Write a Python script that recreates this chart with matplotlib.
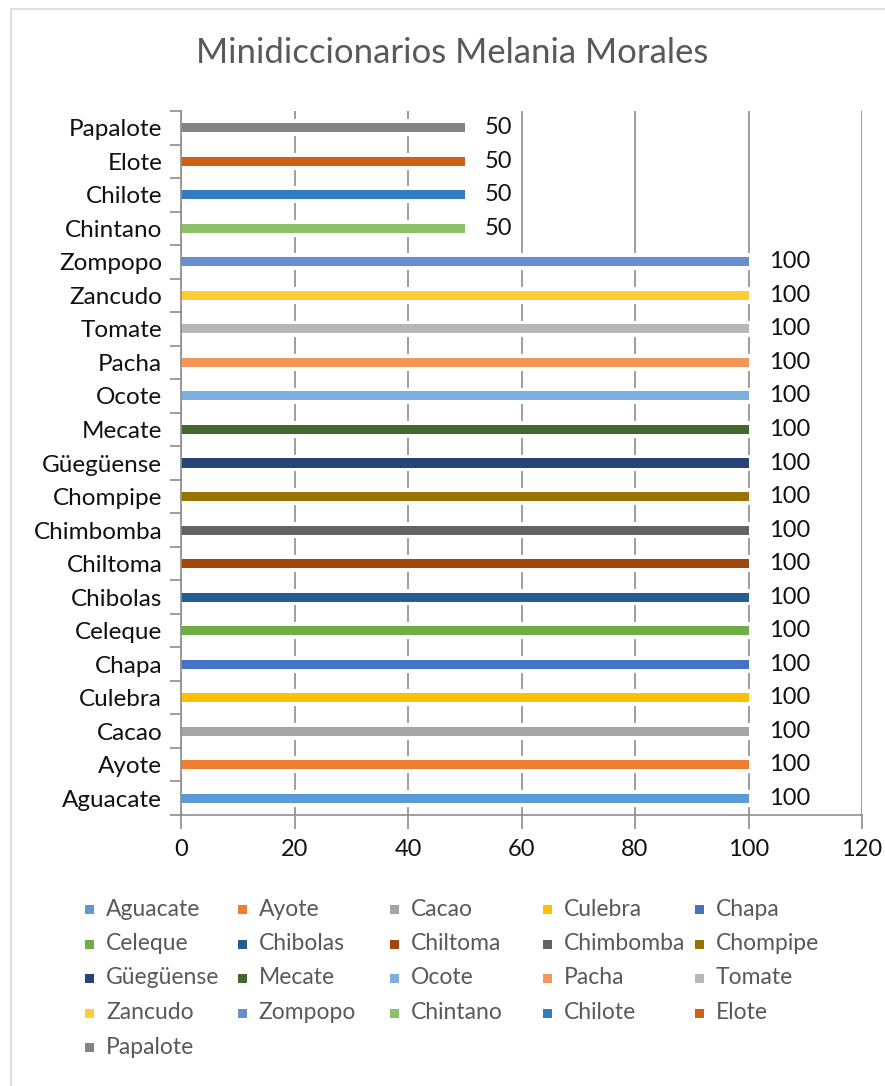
import matplotlib
matplotlib.use("Agg")
import matplotlib.pyplot as plt
from matplotlib.patches import Rectangle

# words and their scores, bottom to top
words = ["Aguacate", "Ayote", "Cacao", "Culebra", "Chapa", "Celeque", "Chibolas",
         "Chiltoma", "Chimbomba", "Chompipe", "Güegüense", "Mecate", "Ocote",
         "Pacha", "Tomate", "Zancudo", "Zompopo", "Chintano", "Chilote", "Elote",
         "Papalote"]
scores = [100, 100, 100, 100, 100, 100, 100, 100, 100, 100, 100, 100, 100,
          100, 100, 100, 100, 50, 50, 50, 50]
colors = ["#5B9BD5", "#ED7D31", "#A5A5A5", "#FFC000", "#4472C4", "#70AD47",
          "#255E91", "#9E480E", "#636363", "#997300", "#264478", "#43682B",
          "#7CAFDD", "#F1975A", "#B7B7B7", "#FFCD33", "#698ED0", "#8CC168",
          "#327DC2", "#D26012", "#848484"]
xticks = [0, 20, 40, 60, 80, 100, 120]

plt.rcParams['font.family'] = ['Lato', 'DejaVu Sans']

W, H = 885, 1086
fig = plt.figure(figsize=(W / 100, H / 100), dpi=100)

# chart frame (runs off the right and bottom edges)
fig.patches.append(Rectangle((11 / W, -0.1), 1.2, 1.1 - 9 / H, transform=fig.transFigure,
                             fill=False, edgecolor="#D9D9D9", linewidth=1.2))

ax = fig.add_axes([181 / W, 1 - 815 / H, (862 - 181) / W, (815 - 111) / H])

y = list(range(len(words)))
ax.set_axisbelow(True)
# white band around each bar breaks the gridlines
ax.barh(y, scores, height=0.38, color="white", edgecolor="white",
        linewidth=3, zorder=2)
ax.barh(y, scores, height=0.27, color=colors, zorder=3)

for yi, v in zip(y, scores):
    ax.text(v + 3.6, yi, str(v), va="center", ha="left", fontsize=17,
            color="#111111", zorder=4)

ax.set_xlim(0, 120)
ax.set_ylim(-0.5, len(words) - 0.5)
ax.set_xticks(xticks)
ax.set_xticklabels([str(t) for t in xticks], fontsize=17, color="#111111")
ax.set_yticks(y)
ax.set_yticklabels(words, fontsize=17.5, color="#111111")
ax.set_yticks([i - 0.5 for i in range(len(words) + 1)], minor=True)
ax.tick_params(axis="y", which="major", length=0, pad=13.5)
ax.tick_params(axis="y", which="minor", length=8, width=1.2, color="#8C8C8C")
ax.tick_params(axis="x", length=10, width=1.2, color="#8C8C8C", pad=7)
ax.grid(axis="x", color="#8C8C8C", linewidth=1.2, zorder=1)

for side in ["top", "right"]:
    ax.spines[side].set_visible(False)
for side in ["left", "bottom"]:
    ax.spines[side].set_color("#8C8C8C")
    ax.spines[side].set_linewidth(1.2)
    ax.spines[side].set_zorder(4)

fig.text(452 / W, 1 - 53 / H, "Minidiccionarios Melania Morales", ha="center",
         va="center", fontsize=25, color="#595959")

# legend: five equal-width columns, filled row by row
for i, (w, c) in enumerate(zip(words, colors)):
    row, col = divmod(i, 5)
    lx = 85 + col * 152.5
    ly = 1 - (909 + row * 34.5) / H
    fig.patches.append(Rectangle((lx / W, ly - 5 / H), 9 / W, 9 / H,
                                 transform=fig.transFigure, facecolor=c,
                                 edgecolor="none"))
    fig.text((lx + 21) / W, ly, w, ha="left", va="center", fontsize=16.5,
             color="#595959")

fig.savefig("out.png", dpi=100, facecolor="white")
